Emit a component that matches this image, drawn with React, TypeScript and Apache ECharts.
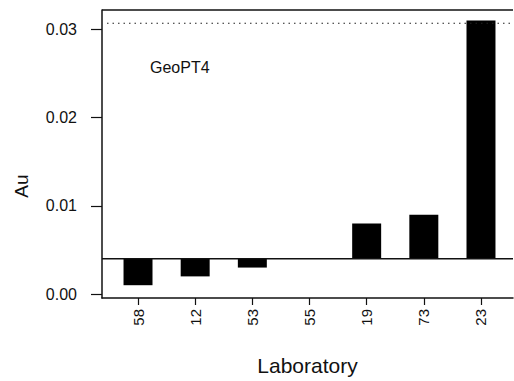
import React, { useEffect, useRef } from "react";
import * as echarts from "echarts";

const labs = ["58", "12", "53", "55", "19", "73", "23"];
const auValues = [0.001, 0.002, 0.003, 0.004, 0.008, 0.009, 0.031];
const baseline = 0.004;
const upperRef = 0.0307;
const yTicks = [0, 0.01, 0.02, 0.03];
const yMin = -0.00045;
const yMax = 0.0322;

const FONT = "'Liberation Sans', Arial, Helvetica, sans-serif";

export default function App() {
  const ref = useRef<HTMLDivElement>(null);
  useEffect(() => {
    if (!ref.current) return;
    const chart = echarts.init(ref.current, undefined, { renderer: "svg" });
    const idx = labs.map((_, i) => i);
    const data = auValues.map((v, i) => [i, v]);
    const hLines = [
      { value: [0, baseline], dash: false, width: 1.6 },
      { value: [0, upperRef], dash: true, width: 1.2 },
      { value: [0, yMax], dash: false, width: 1.5 },
    ];
    chart.setOption({
      animation: false,
      backgroundColor: "#fff",
      title: {
        text: "GeoPT4",
        left: 145,
        top: 54,
        textStyle: { fontFamily: FONT, fontSize: 16, fontWeight: "normal", color: "#111" },
      },
      grid: { left: 102, right: 1, top: 10, bottom: 79 },
      xAxis: {
        type: "value",
        min: -0.63,
        max: 6.56,
        splitLine: { show: false },
        axisLine: { show: true, onZero: false, lineStyle: { color: "#111", width: 1.5 } },
        axisTick: { show: true, length: 7, customValues: idx, lineStyle: { color: "#111", width: 1.2 } },
        axisLabel: {
          customValues: idx,
          rotate: 90,
          margin: 11,
          formatter: (v: number) => labs[Math.round(v)] ?? "",
          fontFamily: FONT,
          fontSize: 15,
          color: "#111",
        },
        name: "Laboratory",
        nameLocation: "middle",
        nameGap: 57,
        nameTextStyle: { fontFamily: FONT, fontSize: 21, color: "#111" },
      },
      yAxis: {
        type: "value",
        min: yMin,
        max: yMax,
        splitLine: { show: false },
        axisLine: { show: true, onZero: false, lineStyle: { color: "#111", width: 1.5 } },
        axisTick: { show: true, length: 11, customValues: yTicks, lineStyle: { color: "#111", width: 1.2 } },
        axisLabel: {
          customValues: yTicks,
          margin: 25,
          formatter: (v: number) => v.toFixed(2),
          fontFamily: FONT,
          fontSize: 16,
          color: "#111",
        },
      },
      graphic: [
        {
          type: "text",
          x: 21,
          y: 186,
          rotation: Math.PI / 2,
          style: {
            text: "Au",
            fontFamily: FONT,
            fontSize: 19,
            fill: "#111",
            align: "center",
            verticalAlign: "middle",
          },
        },
      ],
      series: [
        {
          type: "custom",
          data,
          renderItem: (params: any, api: any) => {
            const x = api.value(0);
            const v = api.value(1);
            const p0 = api.coord([x, baseline]);
            const p1 = api.coord([x, v]);
            const w = api.size([1, 0])[0] * 0.507;
            return {
              type: "rect",
              shape: {
                x: p0[0] - w / 2,
                y: Math.min(p0[1], p1[1]),
                width: w,
                height: Math.abs(p0[1] - p1[1]),
              },
              style: { fill: "#000" },
            };
          },
          z: 2,
        },
        {
          type: "custom",
          data: hLines.map((h) => h.value),
          clip: false,
          renderItem: (params: any, api: any) => {
            const cs = params.coordSys;
            const y = api.coord([0, api.value(1)])[1];
            const spec = hLines[params.dataIndex];
            return {
              type: "line",
              shape: { x1: cs.x + (spec.dash ? 5 : 0), y1: y, x2: cs.x + cs.width, y2: y },
              style: {
                stroke: spec.dash ? "#222" : "#111",
                lineWidth: spec.width,
                lineDash: spec.dash ? [1.5, 4] : null,
              },
            };
          },
          z: 3,
        },
      ],
    });
    return () => chart.dispose();
  }, []);
  return (
    <div
      ref={ref}
      style={{ position: "fixed", left: 0, top: 0, width: 514, height: 381 }}
    />
  );
}
